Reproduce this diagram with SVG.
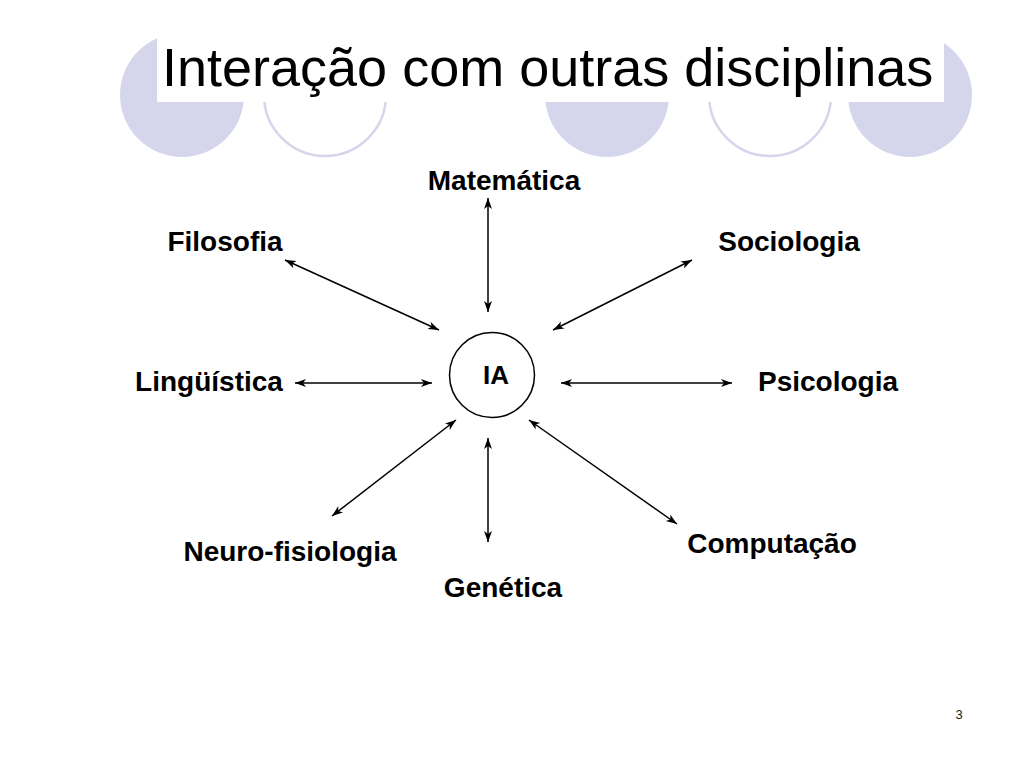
<svg xmlns="http://www.w3.org/2000/svg" width="1024" height="768" viewBox="0 0 1024 768">
<defs>
<style>
.deco-fill{fill:#D5D5EC;stroke:none}
.deco-ring{fill:none;stroke:#D5D5EC;stroke-width:2.5}
.title{font-family:"Liberation Sans",Arial,sans-serif;font-size:54px;fill:#000}
.lbl{font-family:"Liberation Sans",Arial,sans-serif;font-size:28px;font-weight:bold;fill:#000;text-anchor:middle}
.conn{stroke:#000;stroke-width:1.5;fill:none;marker-start:url(#ah);marker-end:url(#ah)}
.pg{font-family:"Liberation Sans",Arial,sans-serif;font-size:13px;fill:#222;text-anchor:middle}
</style>
<marker id="ah" markerUnits="userSpaceOnUse" markerWidth="14" markerHeight="10" refX="11" refY="4.5" orient="auto-start-reverse" viewBox="0 0 14 10">
<path d="M0,0.5 L11,4.5 L0,8.5 L3,4.5 Z" fill="#000"/>
</marker>
</defs>
<rect width="1024" height="768" fill="#fff"/>
<g id="decoration">
<circle class="deco-fill" cx="182" cy="95" r="62"/>
<circle class="deco-ring" cx="325" cy="95" r="61"/>
<circle class="deco-fill" cx="607" cy="95" r="62"/>
<circle class="deco-ring" cx="770" cy="95" r="61"/>
<circle class="deco-fill" cx="910" cy="95" r="62"/>
<rect x="157" y="15" width="787" height="87" fill="#fff"/>
</g>
<text class="title" x="162" y="86">Interação com outras disciplinas</text>
<g id="connectors">
<line class="conn" x1="488" y1="198" x2="488" y2="312"/>
<line class="conn" x1="285" y1="260" x2="439" y2="330"/>
<line class="conn" x1="692" y1="260" x2="553" y2="330"/>
<line class="conn" x1="295" y1="383" x2="432" y2="383"/>
<line class="conn" x1="561" y1="383" x2="732" y2="383"/>
<line class="conn" x1="456" y1="420" x2="332" y2="516"/>
<line class="conn" x1="488" y1="438" x2="488" y2="542"/>
<line class="conn" x1="529" y1="420" x2="677" y2="524"/>
</g>
<g id="node-ia">
<circle cx="492" cy="375" r="42.5" fill="#fff" stroke="#000" stroke-width="1.5"/>
<text class="lbl" x="496" y="384" style="font-size:26px">IA</text>
</g>
<g id="node-matematica"><text class="lbl" x="504" y="190">Matemática</text></g>
<g id="node-filosofia"><text class="lbl" x="225" y="251">Filosofia</text></g>
<g id="node-sociologia"><text class="lbl" x="789" y="251">Sociologia</text></g>
<g id="node-linguistica"><text class="lbl" x="209" y="391">Lingüística</text></g>
<g id="node-psicologia"><text class="lbl" x="828" y="391">Psicologia</text></g>
<g id="node-neuro"><text class="lbl" x="290" y="561">Neuro-fisiologia</text></g>
<g id="node-genetica"><text class="lbl" x="503" y="597">Genética</text></g>
<g id="node-computacao"><text class="lbl" x="772" y="553">Computação</text></g>
<text class="pg" x="959" y="719">3</text>
</svg>
